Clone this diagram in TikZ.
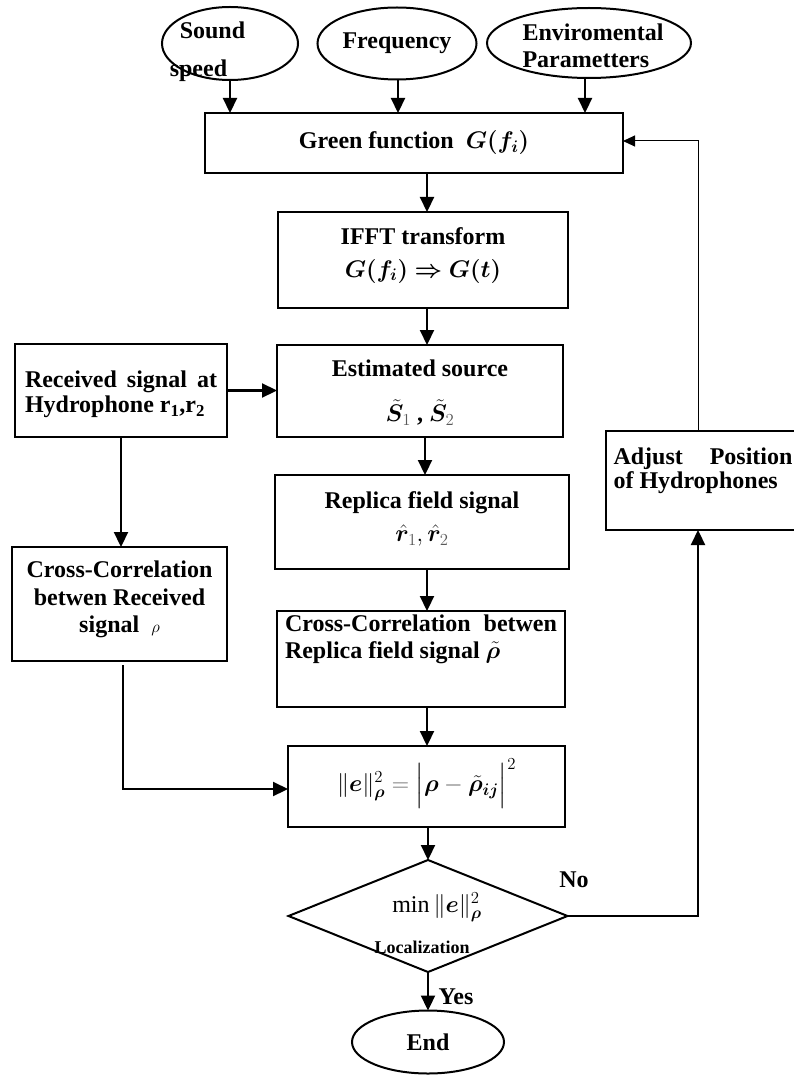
\RequirePackage{fix-cm}
\documentclass[tikz,border=0pt]{standalone}
\usepackage{fontspec}
\setmainfont{Liberation Serif}
\usepackage{amsmath,bm}
\usetikzlibrary{shapes.geometric,arrows.meta}
\newcommand{\fsz}[1]{\fontsize{24}{#1}\selectfont\bfseries}
\newcommand{\rlines}[2]{\raisebox{#1}[\height][\depth]{\begin{tabular}{@{}c@{}}#2\end{tabular}}}
\begin{document}
\begin{tikzpicture}[x=1pt,y=-1pt,
  every node/.style={font=\fsz{27}, inner sep=0pt, outer sep=0pt},
  box/.style={draw, rectangle, line width=2pt},
  ell/.style={draw, ellipse, line width=2pt},
  arr/.style={line width=2.2pt, -{Triangle[length=15pt,width=14pt]}},
  thinarr/.style={line width=1pt, -{Triangle[length=12pt,width=11pt]}}]
\useasboundingbox (0,0) rectangle (794,1075);

% top ellipses
\node[ell, minimum width=136pt, minimum height=73pt] (ss) at (230,43.5) {};
\node[align=left] (sst) at (207.5,52) {\hspace*{10pt}Sound\\[11pt]speed};
\node[ell, minimum width=159pt, minimum height=72pt] (fr) at (397,43.5) {Frequency};
\node[ell, minimum width=204pt, minimum height=70pt] (env) at (589,43) {};
\node[align=left] (envt) at (593,46) {Enviromental\\Parametters};

% main column
\coordinate (mid) at (427,0);
\coordinate (fb) at (698,0);
\node[box, minimum width=418pt, minimum height=60pt] (green) at (414,143)
  {Green function\enspace $\bm{G(f_i)}$};
\node[box, minimum width=290pt, minimum height=96pt, font=\fsz{33}] (ifft) at (423,260)
  {\rlines{6pt}{IFFT transform\\ $\bm{G(f_i)\Rightarrow G(t)}$}};
\node[box, minimum width=286pt, minimum height=92pt, font=\fsz{45}] (est) at (420,391)
  {\rlines{1pt}{Estimated source\\ $\tilde{\bm S}_{\color{black!65}1}$ , $\tilde{\bm S}_{\color{black!65}2}$}};
\node[box, minimum width=294pt, minimum height=94pt, font=\fsz{33}] (rep) at (422,522)
  {\rlines{3.5pt}{Replica field signal\\ $\hat{\bm r}_{\color{black!65}1}, \hat{\bm r}_{\color{black!65}2}$}};
\node[box, minimum width=288pt, minimum height=96pt, font=\fsz{27}] (ccrep) at (421,659)
  {\raisebox{20pt}[\height][\depth]{\parbox{272pt}{\makebox[272pt][s]{Cross-Correlation\ \ betwen}\\Replica field signal $\tilde{\bm\rho}$}}};
\node[box, minimum width=277pt, minimum height=81pt] (err) at (426.5,786.5)
  {\raisebox{3pt}[\height][\depth]{$\|\bm e\|^{2}_{\bm\rho} \mathrel{\textcolor{black!60}{=}} \Bigl|\bm\rho \mathbin{\textcolor{black!60}{-}} \tilde{\bm\rho}_{\bm{ij}}\Bigr|^{2}$}};
\node[draw, diamond, line width=2pt, minimum width=279pt, minimum height=112pt] (dia) at (428,916) {};
\node (diat) at (437,907) {\mdseries $\mathrm{min}\,\|\bm e\|^{2}_{\bm\rho}$};
\node[font=\fontsize{18}{20}\selectfont\bfseries] (loc) at (422,947) {Localization};
\node[ell, minimum width=152pt, minimum height=63pt] (end) at (428,1042) {End};

% left column
\node[box, minimum width=212pt, minimum height=93pt, font=\fsz{25}] (rec) at (121,390.5)
  {\raisebox{-4pt}[\height][\depth]{\parbox{192pt}{\makebox[192pt][s]{Received signal at}\\Hydrophone r\textsubscript{1},r\textsubscript{2}}}};
\node[box, minimum width=215pt, minimum height=114pt, font=\fsz{27.5}] (ccrec) at (119.5,604)
  {\rlines{4.5pt}{Cross-Correlation\\ betwen Received\\ signal\ \ $\scriptstyle\rho$}};

% right column
\node[box, minimum width=194pt, minimum height=99pt, font=\fsz{24}] (adj) at (703,480.5)
  {\raisebox{10pt}[\height][\depth]{\parbox{179pt}{\makebox[179pt][s]{Adjust Position}\\of Hydrophones}}};

% labels
\node (no) at (574,880) {No};
\node (yes) at (456,997) {Yes};

% connectors
\draw[arr] (ss.south) -- (ss.south |- green.north);
\draw[arr] ([xshift=1pt]fr.south) -- ([xshift=1pt]fr.south |- green.north);
\draw[arr] ([xshift=-4pt]env.south) -- ([xshift=-4pt]env.south |- green.north);
\draw[arr] (green.south -| mid) -- (ifft.north -| mid);
\draw[arr] (ifft.south -| mid) -- (est.north -| mid);
\draw[arr] ([xshift=-2pt]est.south -| mid) -- ([xshift=-2pt]rep.north -| mid);
\draw[arr] (rep.south -| mid) -- (ccrep.north -| mid);
\draw[arr] (ccrep.south -| mid) -- (err.north -| mid);
\draw[arr] (err.south -| dia.north) -- (dia.north);
\draw[arr] (dia.south) -- (end.north);
\draw[arr] (rec.east) -- (rec.east -| est.west);
\draw[arr] (rec.south) -- (rec.south |- ccrec.north);
\draw[arr] ([xshift=3.5pt,yshift=-4pt]ccrec.south) |- ([yshift=-2.5pt]err.west);
\draw[arr] (dia.east) -| (fb |- adj.south);
\draw[thinarr] (fb |- adj.north) |- ([yshift=2pt]green.east);
\end{tikzpicture}
\end{document}
